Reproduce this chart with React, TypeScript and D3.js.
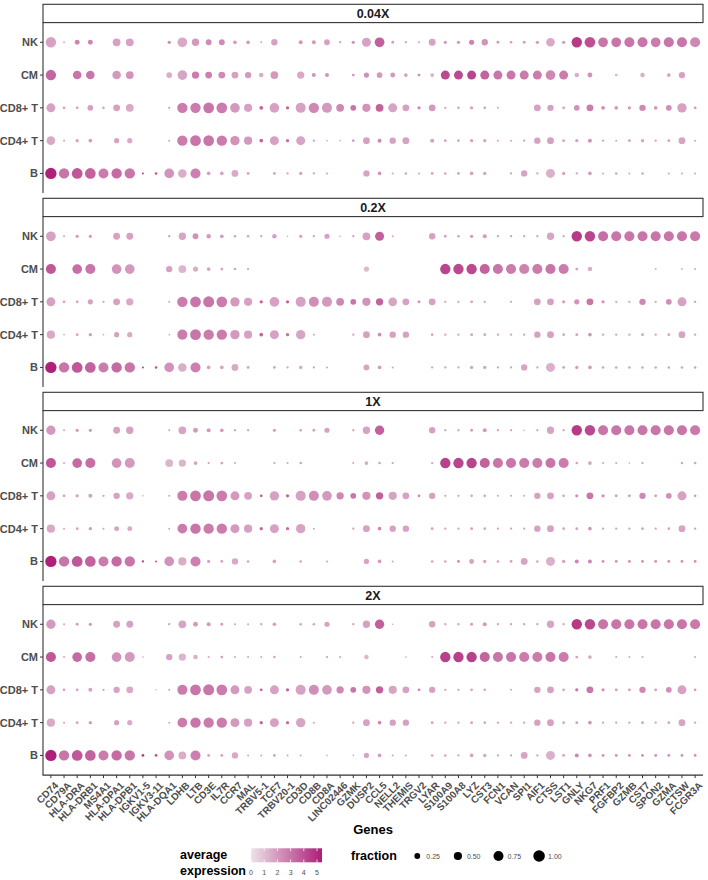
import React from "react";
import * as d3 from "d3";

const genes = ["CD74","CD79A","HLA-DRA","HLA-DRB1","MS4A1","HLA-DPA1","HLA-DPB1","IGKV1-5","IGKV3-11","HLA-DQA1","LDHB","LTB","CD3E","IL7R","CCR7","MAL","TRBV5-1","TCF7","TRBV20-1","CD3D","CD8B","CD8A","LINC02446","GZMK","DUSP2","CCL5","NELL2","THEMIS","TRGV2","LYAR","S100A9","S100A8","LYZ","CST3","FCN1","VCAN","SPI1","AIF1","CTSS","LST1","GNLY","NKG7","PRF1","FGFBP2","GZMB","CST7","SPON2","GZMA","CTSW","FCGR3A"];
const cellTypes = ["NK", "CM", "CD8+ T", "CD4+ T", "B"];
const depths = ["0.04X", "0.2X", "1X", "2X"];

// fraction of cells expressing, rows follow cellTypes
const pct004 = [
  [.8,.03,.18,.18,0,.45,.45,0,0,.08,.7,.4,.25,.25,.1,.1,.03,.3,0,.12,.12,.25,.04,.08,.6,.7,.06,.04,.03,.35,.08,.08,.2,.3,.06,.05,.06,.08,.55,.08,.8,.85,.7,.7,.75,.75,.7,.75,.75,.75],
  [.8,0,.55,.55,0,.55,.45,0,0,.25,.7,.4,.35,.35,.35,.3,.15,.45,0,.4,.12,.12,0,.06,.2,.25,.18,.1,.06,.1,.6,.6,.6,.6,.6,.6,.6,.6,.7,.6,.15,.18,0,.05,0,.15,0,.1,.3,0],
  [.6,.06,.06,.25,.05,.35,.45,0,0,.04,.8,.8,.85,.85,.7,.5,.1,.7,.08,.75,.8,.75,.45,.25,.5,.45,.6,.35,.08,.35,.04,.05,.08,.06,.03,0,0,.35,.3,.06,.25,.35,.1,.1,.08,.3,.1,.25,.65,.06],
  [.55,.03,.08,.1,0,.2,.2,0,0,.03,.8,.85,.85,.8,.65,.5,.1,.6,.08,.6,.04,.02,.02,.05,.35,.12,.3,.35,0,.12,.06,.05,.08,.08,.03,.03,.04,.3,.35,.06,.08,.12,.04,.03,.06,.08,.04,.06,.35,.03],
  [.95,.8,.85,.85,.75,.8,.8,.03,.05,.7,.55,.75,.1,.1,.35,.06,0,.06,.04,.08,.04,.03,0,0,.3,.1,.03,.05,.03,.06,.05,.06,.1,.08,0,.04,.3,.04,.6,.08,.04,.1,.03,.05,.03,.05,0,.03,.03,.03],
];
const avg004 = [
  [1.8,1.5,2.6,2.6,0,1.8,1.8,0,0,2.5,1.6,2,2.4,2.4,2,2,1.8,1.8,0,2,2,1.8,1.8,2.2,1.8,3.6,2,1.8,1.8,1.8,2,2,2.6,2.2,2,2,2,2,1.6,2,4.6,4,3,3,3,3,2.8,3,3,2.5],
  [3.4,0,3,3,0,2,2.2,0,0,1.5,1.7,2.8,2.7,2.4,1.8,2,1.5,2,0,1.6,2.2,2.2,0,2,2.3,2,2,1.8,2.4,1.5,4.2,4.2,4.3,3.5,3,3,2.8,2.8,2.5,2.8,1.5,2.2,0,1.5,0,1.5,0,1.8,1.8,0],
  [1.8,1.8,1.8,1.8,1.8,1.8,1.6,0,0,1.8,2.8,2.8,3,2.8,2,1.8,3.6,1.8,3.5,1.8,2.5,2,2.5,3,2.2,3.5,1.7,1.8,2.5,2,1.8,1.8,1.8,1.8,1.8,0,0,1.8,1.8,1.8,2.2,2.8,2.4,2,2,2.5,2,2.3,1.8,2],
  [1.6,1.8,1.8,2,0,1.8,1.6,0,0,1.8,2.8,3,3,2.8,2.2,2,3.5,1.8,3.2,1.7,1.8,1.8,1.8,2,1.8,2.5,1.8,1.8,0,1.8,1.8,1.8,1.8,1.8,1.8,1.8,1.8,1.8,1.8,1.8,1.8,2.2,1.8,1.8,1.8,1.8,1.8,1.8,1.7,1.8],
  [5.3,3,3.8,3.5,2.8,3.3,3,4.5,4,2.2,1.5,2.7,1.8,1.8,1.6,1.8,0,1.8,1.8,1.8,1.8,1.8,0,0,1.7,2.2,1.8,1.8,1.8,1.8,1.8,1.8,1.8,1.8,0,1.8,1.7,1.8,1.4,1.8,1.8,2,1.8,1.8,1.8,1.8,0,1.8,1.8,1.8],
];

const pct02 = [
  [.7,.03,.08,.08,0,.35,.35,0,0,.04,.4,.25,.15,.1,.05,.05,.04,.15,.02,.08,.04,.2,.02,.04,.45,.6,.03,0,0,.3,.06,.05,.08,.12,.04,.04,.04,.04,.4,.04,.8,.8,.75,.75,.75,.75,.75,.75,.75,.75],
  [.75,0,.7,.75,0,.7,.7,0,0,.3,.45,.2,.1,.06,.05,.04,0,0,0,0,0,0,0,0,.2,0,0,0,0,0,.8,.8,.8,.75,.75,.75,.75,.75,.75,.75,.06,.15,0,0,0,0,.03,0,.03,.03],
  [.6,.06,.06,.2,.04,.35,.4,0,0,.03,.8,.85,.9,.85,.65,.5,.08,.7,.08,.75,.75,.75,.45,.25,.5,.4,.55,.35,.06,.35,.04,.04,.06,.04,0,.04,0,.35,.35,.08,.2,.35,.08,.04,.04,.3,.04,.25,.6,.04],
  [.5,.02,.06,.08,.02,.2,.2,0,0,.02,.75,.85,.8,.8,.65,.5,.1,.6,.08,.65,.03,0,0,.04,.35,.1,.3,.3,0,.05,.04,.04,.06,.06,.04,.04,.04,.3,.35,.05,.06,.1,.04,.04,.04,.06,.04,.06,.35,.04],
  [.95,.8,.85,.85,.75,.8,.8,.03,.05,.7,.55,.75,.1,.1,.35,.06,0,.06,.04,.08,.04,.03,0,0,.25,.1,.03,0,0,.04,.04,.04,.08,.08,.04,.04,.3,.04,.6,.06,.08,.1,.05,.05,.05,.05,.05,.05,.05,.05],
];
const avg02 = [
  [1.8,1.8,2,2,0,1.8,1.8,0,0,2,1.7,2.2,2,2,1.8,1.8,1.8,1.8,1.8,1.8,1.8,1.8,1.8,1.8,1.8,3.6,1.8,0,0,1.8,1.8,1.8,2,2,1.8,1.8,1.8,1.8,1.7,1.8,4.6,4.3,3.2,3,3,3,3,3,3,2.9],
  [3.8,0,3.2,3,0,2.2,2,0,0,1.8,1.3,1.5,1.8,1.8,1.8,1.8,0,0,0,0,0,0,0,0,1.2,0,0,0,0,0,4.3,4.2,4.2,3.5,3,2.8,2.6,2.8,3,2.8,1.8,1.5,0,0,0,0,1.5,0,1.5,1.8],
  [1.8,1.8,1.8,1.8,1.8,1.8,1.6,0,0,1.8,2.8,3,3,2.8,2,1.8,3.6,1.8,3.5,1.8,2.3,2,2.5,3,2.2,3.5,1.7,1.8,2.5,1.8,1.8,1.8,1.8,1.8,0,1.8,0,1.8,1.8,1.8,2.2,3,2.2,1.8,1.8,2.5,1.8,2.3,1.8,2],
  [1.6,1.8,1.8,2,1.8,1.8,1.6,0,0,1.8,2.8,3,2.8,2.8,2,1.8,3.5,1.8,3.2,1.7,1.8,0,0,1.8,1.8,2.5,1.8,1.8,0,1.8,1.8,1.8,1.8,1.8,1.8,1.8,1.8,1.8,1.8,1.8,1.8,2.2,1.8,1.8,1.8,1.8,1.8,1.8,1.7,1.8],
  [5.3,3,3.8,3.5,2.8,3.3,3,4.5,4,2.2,1.5,2.7,1.8,1.8,1.6,1.8,0,1.8,1.8,1.8,1.8,1.8,0,0,1.7,2,1.8,0,0,1.8,1.8,1.8,1.8,1.8,1.8,1.8,1.7,1.8,1.4,1.8,2,2,1.8,1.8,1.8,1.8,1.8,1.8,1.8,1.8],
];

const pct1 = [
  [.65,.03,.08,.08,0,.35,.4,0,0,.03,.45,.18,.12,.1,.04,.04,0,.08,0,.05,.06,.2,0,.04,.4,.65,0,0,0,.3,.04,.04,.06,.12,.04,.04,.02,.04,.4,.04,.8,.8,.75,.75,.75,.75,.75,.75,.75,.75],
  [.75,.03,.7,.75,0,.7,.75,0,0,.45,.4,.1,.04,.06,.03,0,0,.04,.03,.05,0,0,0,.03,.1,.05,.04,0,0,.04,.8,.8,.8,.75,.75,.75,.75,.75,.75,.75,.05,.1,.03,.03,.02,.04,0,0,.05,.05],
  [.6,.06,.08,.12,.04,.3,.4,.02,0,.03,.75,.85,.9,.85,.6,.45,.06,.65,.08,.75,.75,.7,.4,.25,.5,.4,.5,.35,.06,.3,.04,.04,.05,.05,.03,.03,.03,.3,.35,.05,.08,.35,.08,.06,.06,.3,.06,.25,.6,.05],
  [.5,.03,.06,.08,.03,.18,.18,0,0,.03,.7,.8,.8,.8,.6,.5,.08,.6,.08,.65,.03,0,0,.04,.35,.1,.3,.3,0,.06,.04,.04,.06,.05,.04,.04,.04,.3,.35,.05,.06,.1,.04,.04,.04,.06,.04,.05,.35,.04],
  [.95,.8,.85,.85,.75,.8,.8,.04,.03,.7,.5,.75,.08,.06,.3,.05,0,.1,0,.05,0,.03,0,0,.2,.1,.03,0,0,.05,.05,.06,.18,.08,.05,.06,.35,.05,.6,.08,.12,.12,.06,.06,.06,.06,.06,.06,.06,.06],
];
const avg1 = [
  [2,1.8,2,2,0,1.8,1.8,0,0,1.8,1.7,2,2,2,1.8,1.8,0,1.8,0,1.8,1.8,1.8,0,1.8,1.8,3.6,0,0,0,1.8,1.8,1.8,2,2,1.8,1.8,1.8,1.8,1.7,1.8,4.6,4.2,3,3,3,3,3,3,3,2.9],
  [3.8,1.8,3.3,3.2,0,2.2,2,0,0,1.3,1.3,1.8,1.8,1.8,1.8,0,0,1.8,1.8,1.8,0,0,0,1.8,1.6,1.8,1.8,0,0,1.8,4.4,4.3,4.3,3.5,3,3,2.8,2.8,3,2.8,1.8,1.8,1.8,1.8,1.8,1.8,0,0,1.8,1.8],
  [1.8,1.8,1.8,1.8,1.8,1.8,1.6,1.5,0,1.8,2.8,3,3,2.8,2,1.8,3.5,1.8,3.5,1.8,2.3,2,2.5,3,2.2,3.6,1.7,1.8,2.5,1.8,1.8,1.8,1.8,1.8,1.8,1.8,1.8,1.8,1.8,1.8,2.2,3,2.2,2,2,2.5,2,2.3,1.8,2],
  [1.6,1.8,1.8,2,1.8,1.8,1.6,0,0,1.8,2.8,3,2.8,2.8,2,1.8,3.5,1.8,3.2,1.7,1.8,0,0,1.8,1.8,2.5,1.8,1.8,0,1.8,1.8,1.8,1.8,1.8,1.8,1.8,1.8,1.8,1.8,1.8,1.8,2.2,1.8,1.8,1.8,1.8,1.8,1.8,1.7,1.8],
  [5.3,3,3.8,3.5,2.8,3.3,3,4.5,4,2.2,1.5,2.7,1.8,1.8,1.6,1.8,0,1.8,0,1.8,0,1.8,0,0,1.7,2,1.8,0,0,1.8,1.8,2.4,1.8,1.8,1.8,1.8,1.7,1.8,1.4,1.8,2.5,2.5,2.3,2.3,2.3,2.3,2.3,2.3,2.3,2.3],
];

const pct2 = [
  [.65,.03,.06,.08,0,.35,.35,0,0,.04,.45,.18,.12,.06,.03,.03,.04,.1,0,.05,.05,.2,0,.04,.4,.65,.02,0,0,.3,.04,.04,.06,.12,.04,.04,.04,.04,.4,.04,.8,.8,.75,.75,.75,.75,.75,.75,.75,.75],
  [.75,.03,.7,.75,0,.7,.75,.02,0,.3,.4,.15,.03,.06,.03,.03,.03,.05,0,.03,0,.04,.03,0,.15,0,0,.02,0,.03,.8,.8,.8,.75,.75,.75,.75,.75,.75,.75,.06,.1,0,.03,.03,.03,0,0,0,.03],
  [.6,.06,.06,.12,.04,.3,.35,0,.02,.03,.75,.85,.9,.85,.6,.45,.06,.6,.08,.75,.75,.7,.4,.25,.5,.4,.5,.35,.06,.3,.04,.04,.05,.05,0,.03,0,.3,.35,.05,.08,.35,.08,.06,.06,.3,.06,.25,.6,.05],
  [.5,.03,.06,.08,0,.2,.2,0,0,.03,.7,.8,.8,.8,.6,.5,.08,.6,.08,.65,.03,0,0,.04,.35,.1,.3,.3,0,.06,.04,.04,.06,.05,.04,.04,.04,.3,.35,.05,.06,.1,.04,.04,.04,.06,.04,.05,.35,.04],
  [.95,.8,.85,.85,.75,.8,.8,.06,.06,.7,.45,.75,.06,.06,.3,.03,.03,.06,.03,.03,0,.02,0,.02,.2,.1,.03,.03,0,.05,.05,.04,.1,.08,.04,.04,.35,.04,.6,.06,.12,.1,.06,.06,.06,.06,.06,.06,.06,.06],
];
const avg2 = [
  [2,1.8,2,2,0,1.8,1.8,0,0,1.8,1.7,2,2,2,1.8,1.8,1.8,1.8,0,1.8,1.8,1.8,0,1.8,1.8,3.6,1.8,0,0,1.8,1.8,1.8,2,2,1.8,1.8,1.8,1.8,1.7,1.8,4.6,4.2,3,3,3,3,3,3,3,2.9],
  [3.8,1.8,3.3,3.2,0,2.2,2,1.8,0,1.8,1.3,1.5,1.8,1.8,1.8,1.8,1.8,1.8,0,1.8,0,1.8,1.8,0,1.3,0,0,1.8,0,1.8,4.4,4.4,4.4,3.5,3,3,2.8,2.8,3,2.8,1.8,1.6,0,1.8,1.8,1.8,0,0,0,1.8],
  [1.8,1.8,1.8,1.8,1.8,1.8,1.6,0,1.5,1.8,2.8,3,3,2.8,2,1.8,3.5,1.8,3.5,1.8,2.3,2,2.5,3,2.2,3.6,1.7,1.8,2.5,1.8,1.8,1.8,1.8,1.8,0,1.8,0,1.8,1.8,1.8,3,3,2.2,2,2,2.5,2,2.3,1.8,2],
  [1.6,1.8,1.8,2,0,1.8,1.6,0,0,1.8,2.8,3,2.8,2.8,2,1.8,3.5,1.8,3.2,1.7,1.8,0,0,1.8,1.8,2.5,1.8,1.8,0,1.8,1.8,1.8,1.8,1.8,1.8,1.8,1.8,1.8,1.8,1.8,1.8,2.2,1.8,1.8,1.8,1.8,1.8,1.8,1.7,1.8],
  [5.3,3,3.8,3.5,2.8,3.3,3,4.5,4,2.2,1.5,2.7,1.8,1.8,1.6,1.8,1.8,1.8,1.8,1.8,0,1.8,0,1.8,1.7,2,1.8,1.8,0,1.8,1.8,1.8,1.8,1.8,1.8,1.8,1.7,1.8,1.4,1.8,2.5,2.3,2.3,2.3,2.3,2.3,2.3,2.3,2.3,2.3],
];

const pctByDepth = [pct004, pct02, pct1, pct2];
const avgByDepth = [avg004, avg02, avg1, avg2];
const legendExpr = [0, 1, 2, 3, 4, 5];
const legendFrac = [0.25, 0.5, 0.75, 1.0];

const W = 708, H = 880;
const left = 43, right = 703;
const facetTop = 4.3, facetStep = 194, stripH = 18.3, panelH = 170.5;
const font = "'Liberation Sans', Arial, sans-serif";
const grey = "#4d4d4d";

export default function App() {
  const x = d3.scalePoint<string>().domain(genes).range([left, right]).padding(0.6);
  const yInner = d3.scalePoint<string>().domain(cellTypes).range([0, panelH]).padding(0.6);
  const color = d3.scaleLinear<string>().domain([0, 5.38]).range(["#ebe4e8", "#ad1d77"]).interpolate(d3.interpolateRgb);
  const r = d3.scaleSqrt().domain([0, 1]).range([0, 5.8]);

  const bottom = facetTop + 3 * facetStep + stripH + panelH;

  const legX = d3.scaleLinear().domain([0, 5]).range([251, 317]);
  const barX0 = legX(0), barX1 = legX(5.38);
  const barY0 = 848.3, barY1 = 862.3;

  return (
    <svg width={W} height={H} style={{ position: "absolute", left: 0, top: 0, background: "#fff" }} fontFamily={font}>
      <defs>
        <linearGradient id="exprGrad" x1="0" x2="1" y1="0" y2="0">
          {d3.range(0, 11).map(i => (
            <stop key={i} offset={`${i * 10}%`} stopColor={color(5.38 * i / 10)} />
          ))}
        </linearGradient>
      </defs>
      {depths.map((depth, fi) => {
        const top = facetTop + fi * facetStep;
        const pTop = top + stripH;
        const pct = pctByDepth[fi];
        const avg = avgByDepth[fi];
        return (
          <g key={depth}>
            <rect x={left} y={top} width={right - left} height={stripH} fill="#fff" stroke="#333" strokeWidth={1.1} />
            <text x={(left + right) / 2} y={top + stripH / 2} dy="0.36em" textAnchor="middle" fontSize={12.5} fontWeight="bold" fill="#1a1a1a">{depth}</text>
            <line x1={left} x2={left} y1={pTop} y2={pTop + panelH} stroke="#333" strokeWidth={1.1} />
            {cellTypes.map((ct, ri) => {
              const y = pTop + (yInner(ct) as number);
              return (
                <g key={ct}>
                  <line x1={left - 3} x2={left} y1={y} y2={y} stroke="#333" strokeWidth={1} />
                  <text x={left - 5} y={y} dy="0.36em" textAnchor="end" fontSize={11} fontWeight="bold" fill={grey}>{ct}</text>
                  {genes.map((g, gi) => {
                    const f = pct[ri][gi];
                    if (!f) return null;
                    return <circle key={g} cx={x(g)} cy={y} r={r(f)} fill={color(avg[ri][gi])} />;
                  })}
                </g>
              );
            })}
          </g>
        );
      })}
      {/* bottom axis */}
      <line x1={left - 0.5} x2={right} y1={bottom} y2={bottom} stroke="#333" strokeWidth={1.1} />
      {genes.map(g => (
        <g key={g}>
          <line x1={x(g)} x2={x(g)} y1={bottom} y2={bottom + 3} stroke="#333" strokeWidth={1} />
          <text transform={`translate(${(x(g) as number) + 3},${bottom + 6}) rotate(-45)`} dy="0.7em" textAnchor="end" fontSize={10} fontWeight="bold" fill={grey}>{g}</text>
        </g>
      ))}
      <text x={(left + right) / 2} y={834} textAnchor="middle" fontSize={13} fontWeight="bold" fill="#000">Genes</text>

      {/* colour legend */}
      <text x={180} y={859} fontSize={12.5} fontWeight="bold" fill="#000">average</text>
      <text x={180} y={875} fontSize={12.5} fontWeight="bold" fill="#000">expression</text>
      <rect x={barX0} y={barY0} width={barX1 - barX0} height={barY1 - barY0} fill="url(#exprGrad)" />
      {legendExpr.map(v => (
        <g key={v}>
          <line x1={legX(v)} x2={legX(v)} y1={barY0} y2={barY0 + 2.8} stroke="#fff" strokeWidth={0.8} />
          <line x1={legX(v)} x2={legX(v)} y1={barY1 - 2.8} y2={barY1} stroke="#fff" strokeWidth={0.8} />
          <text x={legX(v)} y={875} textAnchor="middle" fontSize={7} fill={grey}>{v}</text>
        </g>
      ))}

      {/* size legend */}
      <text x={351} y={860} fontSize={12.5} fontWeight="bold" fill="#000">fraction</text>
      {legendFrac.map((v, i) => {
        const cx = 417.3 + i * 40.6;
        return (
          <g key={v}>
            <circle cx={cx} cy={856} r={r(v)} fill="#000" />
            <text x={cx + 9} y={856} dy="0.36em" fontSize={7} fill={grey}>{v.toFixed(2)}</text>
          </g>
        );
      })}
    </svg>
  );
}
